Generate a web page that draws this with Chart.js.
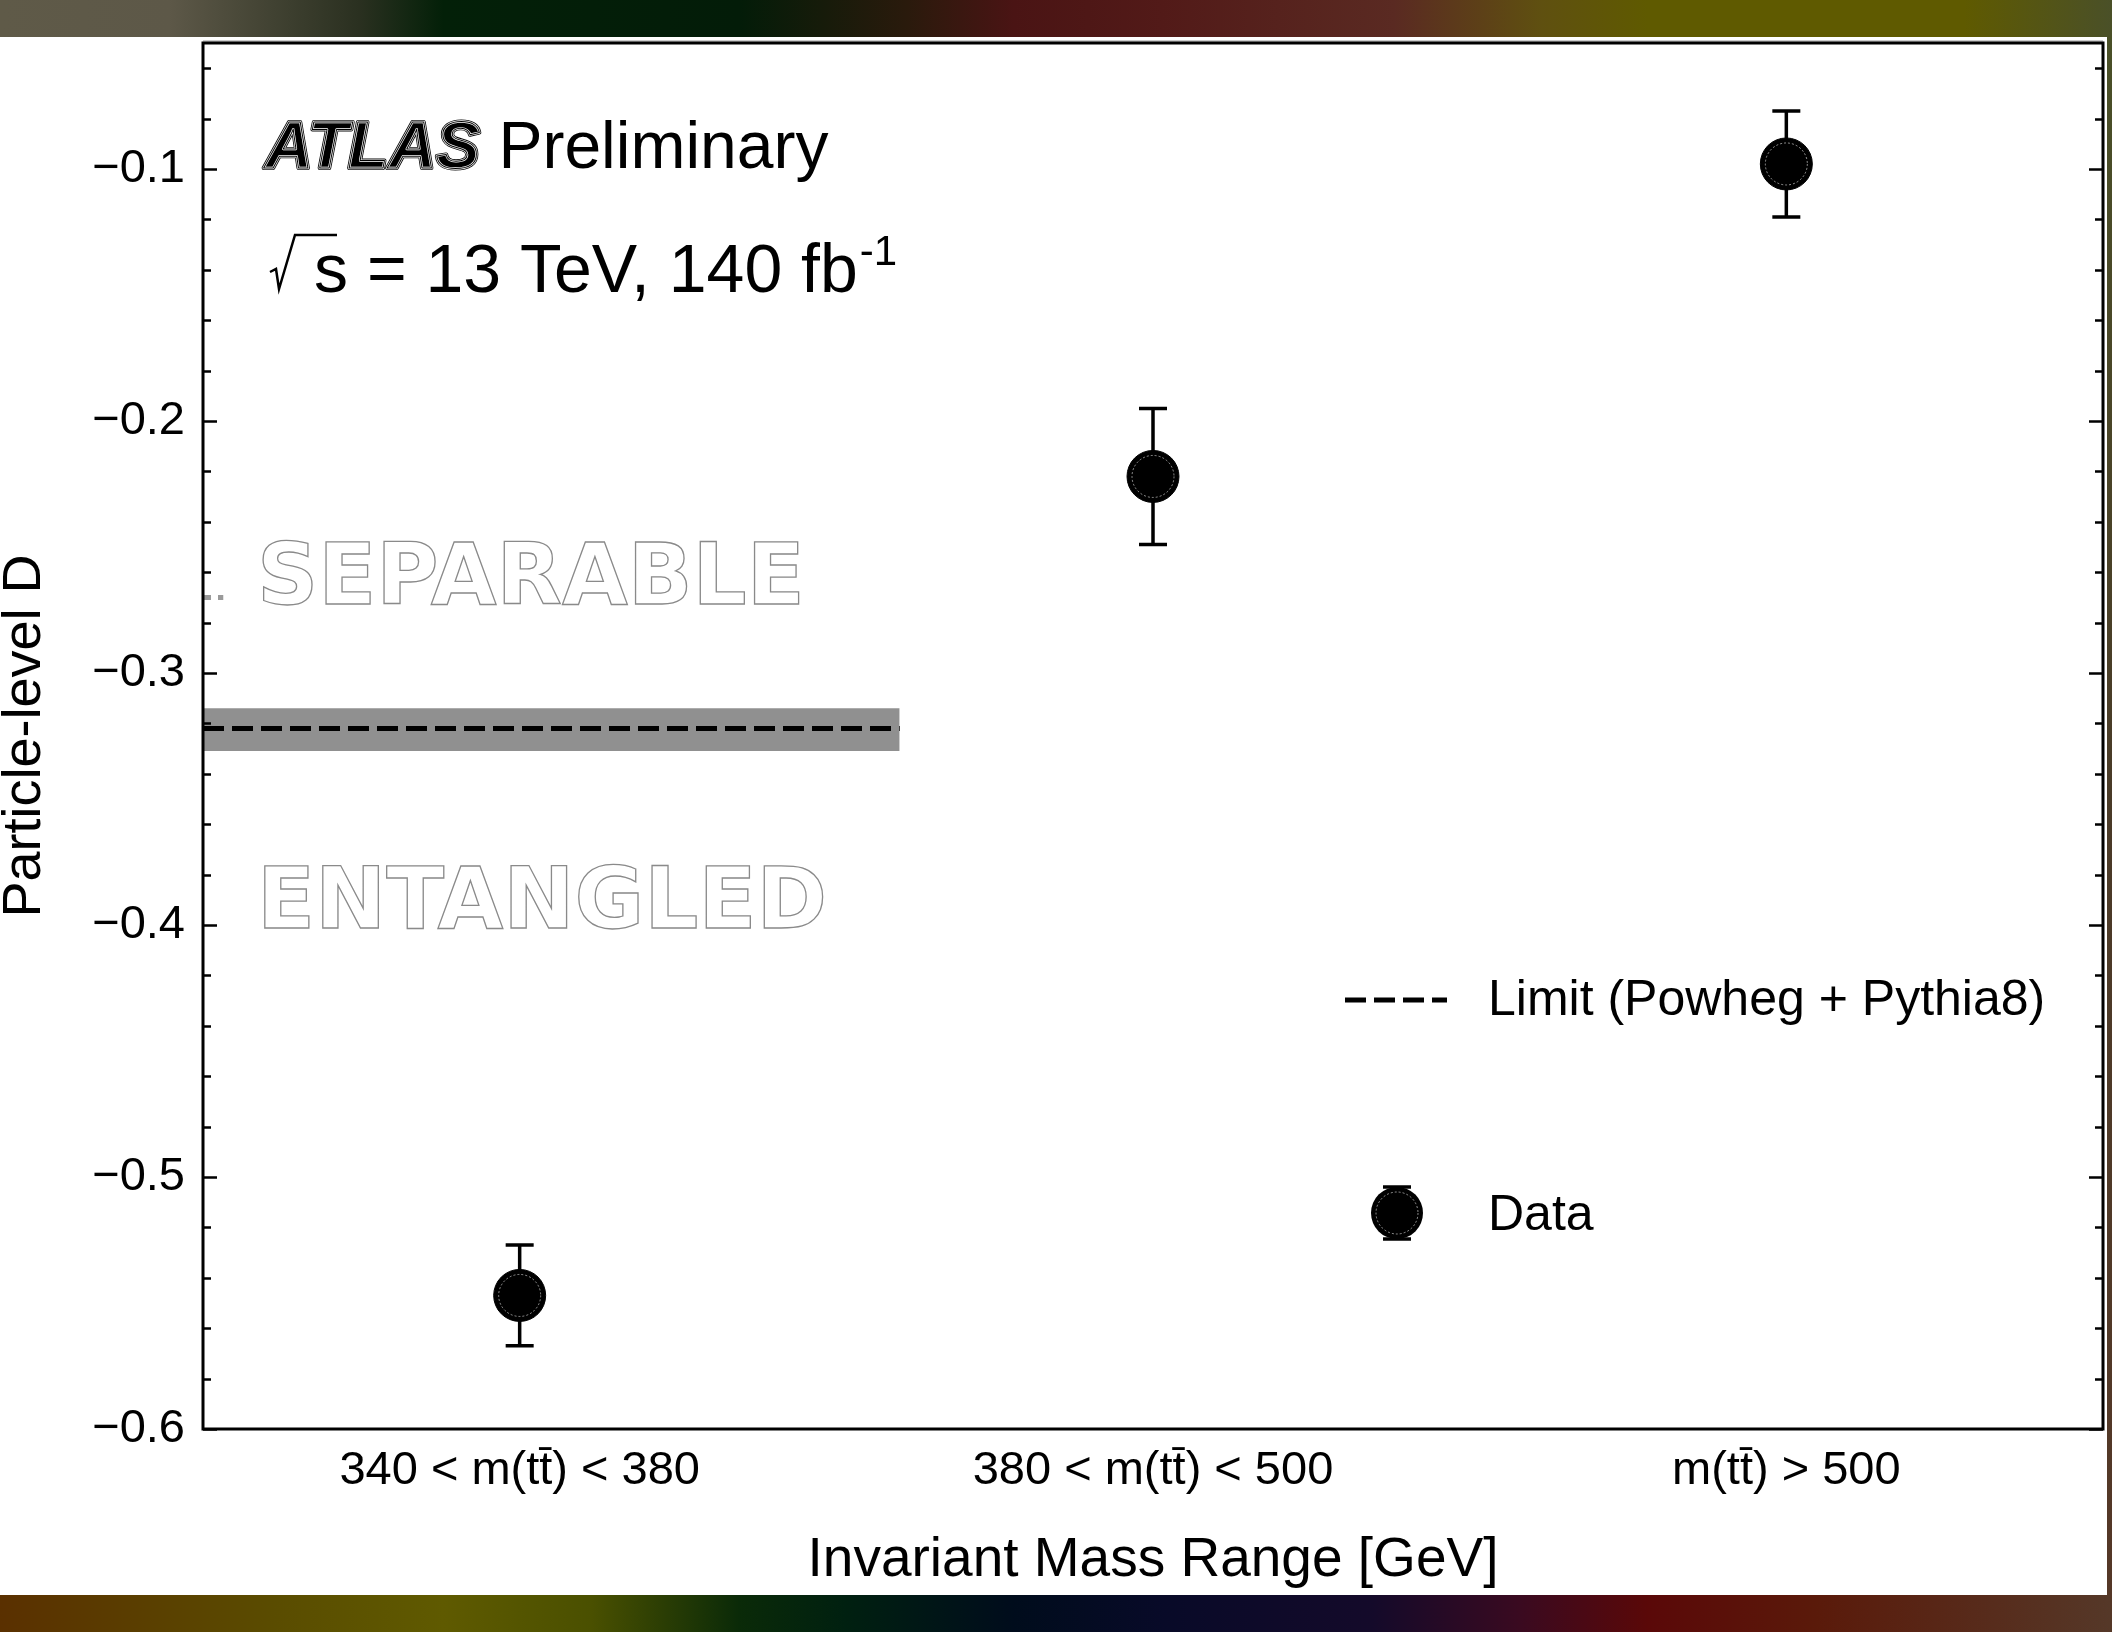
<!DOCTYPE html>
<html>
<head>
<meta charset="utf-8">
<script src="https://cdn.jsdelivr.net/npm/chart.js@4.4.1/dist/chart.umd.min.js"></script>
<style>
  html, body { margin: 0; padding: 0; background: #fff; }
  #wrap { position: relative; width: 2112px; height: 1632px; overflow: hidden; background: #fff; }
  #chart { position: absolute; left: 0; top: 0; }
  .bar { position: absolute; left: 0; width: 2112px; height: 37px; }
  #topBar {
    top: 0;
    background: linear-gradient(to right, #5f5a48 0%, #5d5848 8%, #2a3020 17%, #032008 21%, #031c08 35%,
      #2a1a0c 43%, #4a1414 48%, #521a18 55%, #5a2a22 66%, #5f5010 73%, #5f5a00 78%, #5f5a00 93%, #4a5028 100%);
  }
  #bottomBar {
    top: 1595px;
    background: linear-gradient(to right, #5a3000 0%, #5a4c00 13%, #5f5a00 21%, #4a5000 28%, #0a2a08 35%,
      #002010 40%, #000c1c 48%, #080a28 55%, #140a2a 65%, #3a0a20 72%, #5a0808 78%, #5a1a0a 86%, #553828 100%);
  }
  #rightStrip {
    position: absolute; left: 2107px; top: 37px; width: 5px; height: 1558px;
    background: linear-gradient(to bottom, #4a5028 0%, #4a3a28 50%, #553828 100%);
  }
</style>
</head>
<body>
<div id="wrap">
  <canvas id="chart" width="2112" height="1632"></canvas>
  <div id="topBar" class="bar"></div>
  <div id="bottomBar" class="bar"></div>
  <div id="rightStrip"></div>
</div>
<script>
// values
const categories = ['340 < m(tt\u0304) < 380', '380 < m(tt\u0304) < 500', 'm(tt\u0304) > 500'];
const dataD = [-0.547, -0.222, -0.098];
const dataErr = [0.020, 0.027, 0.021];
const limitD = -0.322;
const limitBandLow = -0.331;
const limitBandHigh = -0.314;
const limitX = [-0.5, 0.6];
const sepDashD = -0.270;
const sepDashX = [-0.5, -0.468];
const yTicks = [-0.6, -0.5, -0.4, -0.3, -0.2, -0.1];
const yMinorStep = 0.02;

const SANS = '"Liberation Sans", Arial, Helvetica, sans-serif';

const noPad = s => { s.paddingLeft = 0; s.paddingRight = 0; s.paddingTop = 0; s.paddingBottom = 0; };

const decorPlugin = {
  id: 'decor',
  beforeDatasetsDraw(chart) {
    const ctx = chart.ctx;
    const xs = chart.scales.x, ys = chart.scales.y;
    // error bars (drawn under the markers)
    ctx.save();
    ctx.strokeStyle = '#000';
    ctx.lineWidth = 3.5;
    dataD.forEach((v, i) => {
      const px = xs.getPixelForValue(i);
      const yTop = ys.getPixelForValue(v + dataErr[i]);
      const yBot = ys.getPixelForValue(v - dataErr[i]);
      ctx.beginPath();
      ctx.moveTo(px, yTop); ctx.lineTo(px, yBot);
      ctx.moveTo(px - 14, yTop); ctx.lineTo(px + 14, yTop);
      ctx.moveTo(px - 14, yBot); ctx.lineTo(px + 14, yBot);
      ctx.stroke();
    });
    ctx.restore();
  },
  afterDatasetsDraw(chart) {
    const ctx = chart.ctx;
    const xs = chart.scales.x, ys = chart.scales.y;
    const ca = chart.chartArea;
    ctx.save();
    // faint inner ring on markers
    ctx.strokeStyle = 'rgba(255,255,255,0.55)';
    ctx.lineWidth = 1;
    ctx.setLineDash([2, 2]);
    dataD.forEach((v, i) => {
      ctx.beginPath();
      ctx.arc(xs.getPixelForValue(i), ys.getPixelForValue(v), 21, 0, Math.PI * 2);
      ctx.stroke();
    });
    ctx.setLineDash([]);

    // frame
    ctx.strokeStyle = '#999';
    ctx.lineWidth = 1;
    ctx.beginPath();
    ctx.moveTo(ca.left, ca.top - 2); ctx.lineTo(ca.right, ca.top - 2);
    ctx.stroke();
    ctx.strokeStyle = '#000';
    ctx.lineWidth = 3;
    ctx.strokeRect(ca.left, ca.top, ca.right - ca.left, ca.bottom - ca.top);

    // y ticks, inward on both sides
    ctx.lineWidth = 2.5;
    const nMinor = Math.round((ys.max - ys.min) / yMinorStep);
    for (let k = 0; k <= nMinor; k++) {
      const v = ys.min + k * yMinorStep;
      if (v > ys.max + 1e-9) break;
      const major = yTicks.some(t => Math.abs(t - v) < 1e-6);
      const len = major ? 14 : 8;
      const py = Math.round(ys.getPixelForValue(v)) + 0.5;
      ctx.beginPath();
      ctx.moveTo(ca.left, py); ctx.lineTo(ca.left + len, py);
      ctx.moveTo(ca.right, py); ctx.lineTo(ca.right - len, py);
      ctx.stroke();
    }

    // ATLAS label, drawn with a double contour
    const ax = ca.left + 62, ay = ca.top + 125;
    ctx.font = 'italic bold 66px ' + SANS;
    ctx.lineJoin = 'round';
    ctx.textBaseline = 'alphabetic';
    ctx.textAlign = 'left';
    ctx.fillStyle = '#000';
    ctx.fillText('ATLAS', ax, ay);
    ctx.strokeStyle = '#000';
    ctx.lineWidth = 4;
    ctx.strokeText('ATLAS', ax, ay);
    ctx.strokeStyle = '#fff';
    ctx.lineWidth = 2.3;
    ctx.strokeText('ATLAS', ax, ay);
    ctx.strokeStyle = '#000';
    ctx.lineWidth = 1;
    ctx.strokeText('ATLAS', ax, ay);
    const atlasW = ctx.measureText('ATLAS ').width;
    ctx.font = '66px ' + SANS;
    ctx.fillStyle = '#000';
    ctx.fillText('Preliminary', ax + atlasW, ay);

    // sqrt(s) line
    const sy = ca.top + 249;
    ctx.strokeStyle = '#000';
    ctx.lineWidth = 2.5;
    ctx.lineJoin = 'miter';
    ctx.beginPath();
    ctx.moveTo(ca.left + 67, sy - 20);
    ctx.lineTo(ca.left + 73, sy - 23);
    ctx.lineTo(ca.left + 76, sy - 3);
    ctx.lineTo(ca.left + 92, sy - 57);
    ctx.lineTo(ca.left + 134, sy - 57);
    ctx.stroke();
    ctx.font = '68px ' + SANS;
    const sText = 's = 13 TeV, 140 fb';
    ctx.fillText(sText, ca.left + 111, sy);
    const sW = ctx.measureText(sText).width;
    ctx.font = '42px ' + SANS;
    ctx.fillText('-1', ca.left + 111 + sW + 2, sy - 27);

    // SEPARABLE / ENTANGLED outline text
    ctx.font = 'bold 85px "DejaVu Sans", sans-serif';
    ctx.lineJoin = 'miter';
    ctx.fillStyle = '#fff';
    ctx.strokeStyle = '#8a8a8a';
    ctx.lineWidth = 1.3;
    ctx.fillText('SEPARABLE', ca.left + 54, ca.top + 561);
    ctx.strokeText('SEPARABLE', ca.left + 54, ca.top + 561);
    ctx.fillText('ENTANGLED', ca.left + 54, ca.top + 885);
    ctx.strokeText('ENTANGLED', ca.left + 54, ca.top + 885);

    // legend
    const lx = ca.left + 1142;
    ctx.strokeStyle = '#000';
    ctx.lineWidth = 5;
    ctx.setLineDash([21, 8]);
    ctx.beginPath();
    ctx.moveTo(lx, ca.top + 957); ctx.lineTo(lx + 102, ca.top + 957);
    ctx.stroke();
    ctx.setLineDash([]);
    const mx = lx + 52, my = ca.top + 1170;
    ctx.fillStyle = '#000';
    ctx.beginPath();
    ctx.arc(mx, my, 26, 0, Math.PI * 2);
    ctx.fill();
    ctx.lineWidth = 3.5;
    ctx.beginPath();
    ctx.moveTo(mx - 14, my - 26); ctx.lineTo(mx + 14, my - 26);
    ctx.moveTo(mx - 14, my + 26); ctx.lineTo(mx + 14, my + 26);
    ctx.stroke();
    ctx.strokeStyle = 'rgba(255,255,255,0.55)';
    ctx.lineWidth = 1;
    ctx.setLineDash([2, 2]);
    ctx.beginPath();
    ctx.arc(mx, my, 21, 0, Math.PI * 2);
    ctx.stroke();
    ctx.setLineDash([]);
    ctx.font = '50px ' + SANS;
    ctx.fillStyle = '#000';
    ctx.fillText('Limit (Powheg + Pythia8)', ca.left + 1285, ca.top + 972);
    ctx.fillText('Data', ca.left + 1285, ca.top + 1187);
    ctx.restore();
  }
};

new Chart(document.getElementById('chart'), {
  type: 'scatter',
  data: {
    datasets: [
      {
        label: 'band low',
        data: limitX.map(x => ({ x, y: limitBandLow })),
        showLine: true, borderWidth: 0, pointRadius: 0,
        borderColor: 'rgba(0,0,0,0)', order: 5
      },
      {
        label: 'band high',
        data: limitX.map(x => ({ x, y: limitBandHigh })),
        showLine: true, borderWidth: 0, pointRadius: 0,
        borderColor: 'rgba(0,0,0,0)', backgroundColor: '#909090',
        fill: 0, order: 4
      },
      {
        label: 'Limit (Powheg + Pythia8)',
        data: limitX.map(x => ({ x, y: limitD })),
        showLine: true, borderWidth: 5, borderColor: '#000',
        borderDash: [21, 8], pointRadius: 0, order: 2
      },
      {
        label: 'separable marker',
        data: sepDashX.map(x => ({ x, y: sepDashD })),
        showLine: true, borderWidth: 5, borderColor: '#9a9a9a',
        borderDash: [8, 7], pointRadius: 0, order: 3
      },
      {
        label: 'Data',
        data: dataD.map((y, i) => ({ x: i, y })),
        pointRadius: 26, pointHoverRadius: 26,
        pointBackgroundColor: '#000', pointBorderColor: '#000',
        pointBorderWidth: 1, order: 1
      }
    ]
  },
  options: {
    responsive: false,
    animation: false,
    devicePixelRatio: 1,
    layout: { autoPadding: false, padding: { top: 43, right: 9, left: 0, bottom: 0 } },
    plugins: {
      legend: { display: false },
      tooltip: { enabled: false }
    },
    scales: {
      x: {
        type: 'linear',
        min: -0.5,
        max: 2.5,
        afterBuildTicks: s => { s.ticks = categories.map((c, i) => ({ value: i })); },
        afterFit: s => { s.height = 203; noPad(s); },
        grid: { display: false },
        border: { display: false },
        ticks: {
          color: '#000',
          font: { family: SANS, size: 47 },
          padding: 6,
          maxRotation: 0,
          autoSkip: false,
          callback: v => categories[v]
        },
        title: {
          display: true,
          text: 'Invariant Mass Range [GeV]',
          color: '#000',
          font: { family: SANS, size: 55 },
          padding: { top: 0, bottom: 38 }
        }
      },
      y: {
        type: 'linear',
        min: -0.6,
        max: -0.05,
        afterBuildTicks: s => { s.ticks = yTicks.map(v => ({ value: v })); },
        afterFit: s => { s.width = 203; noPad(s); },
        grid: { display: false },
        border: { display: false },
        ticks: {
          color: '#000',
          font: { family: SANS, size: 47 },
          padding: 10,
          callback: v => '\u2212' + Math.abs(v).toFixed(1)
        },
        title: {
          display: true,
          text: 'Particle-level D',
          color: '#000',
          font: { family: SANS, size: 54, lineHeight: 0.92 },
          padding: { top: 0, bottom: 0 }
        }
      }
    }
  },
  plugins: [decorPlugin]
});
</script>
</body>
</html>
